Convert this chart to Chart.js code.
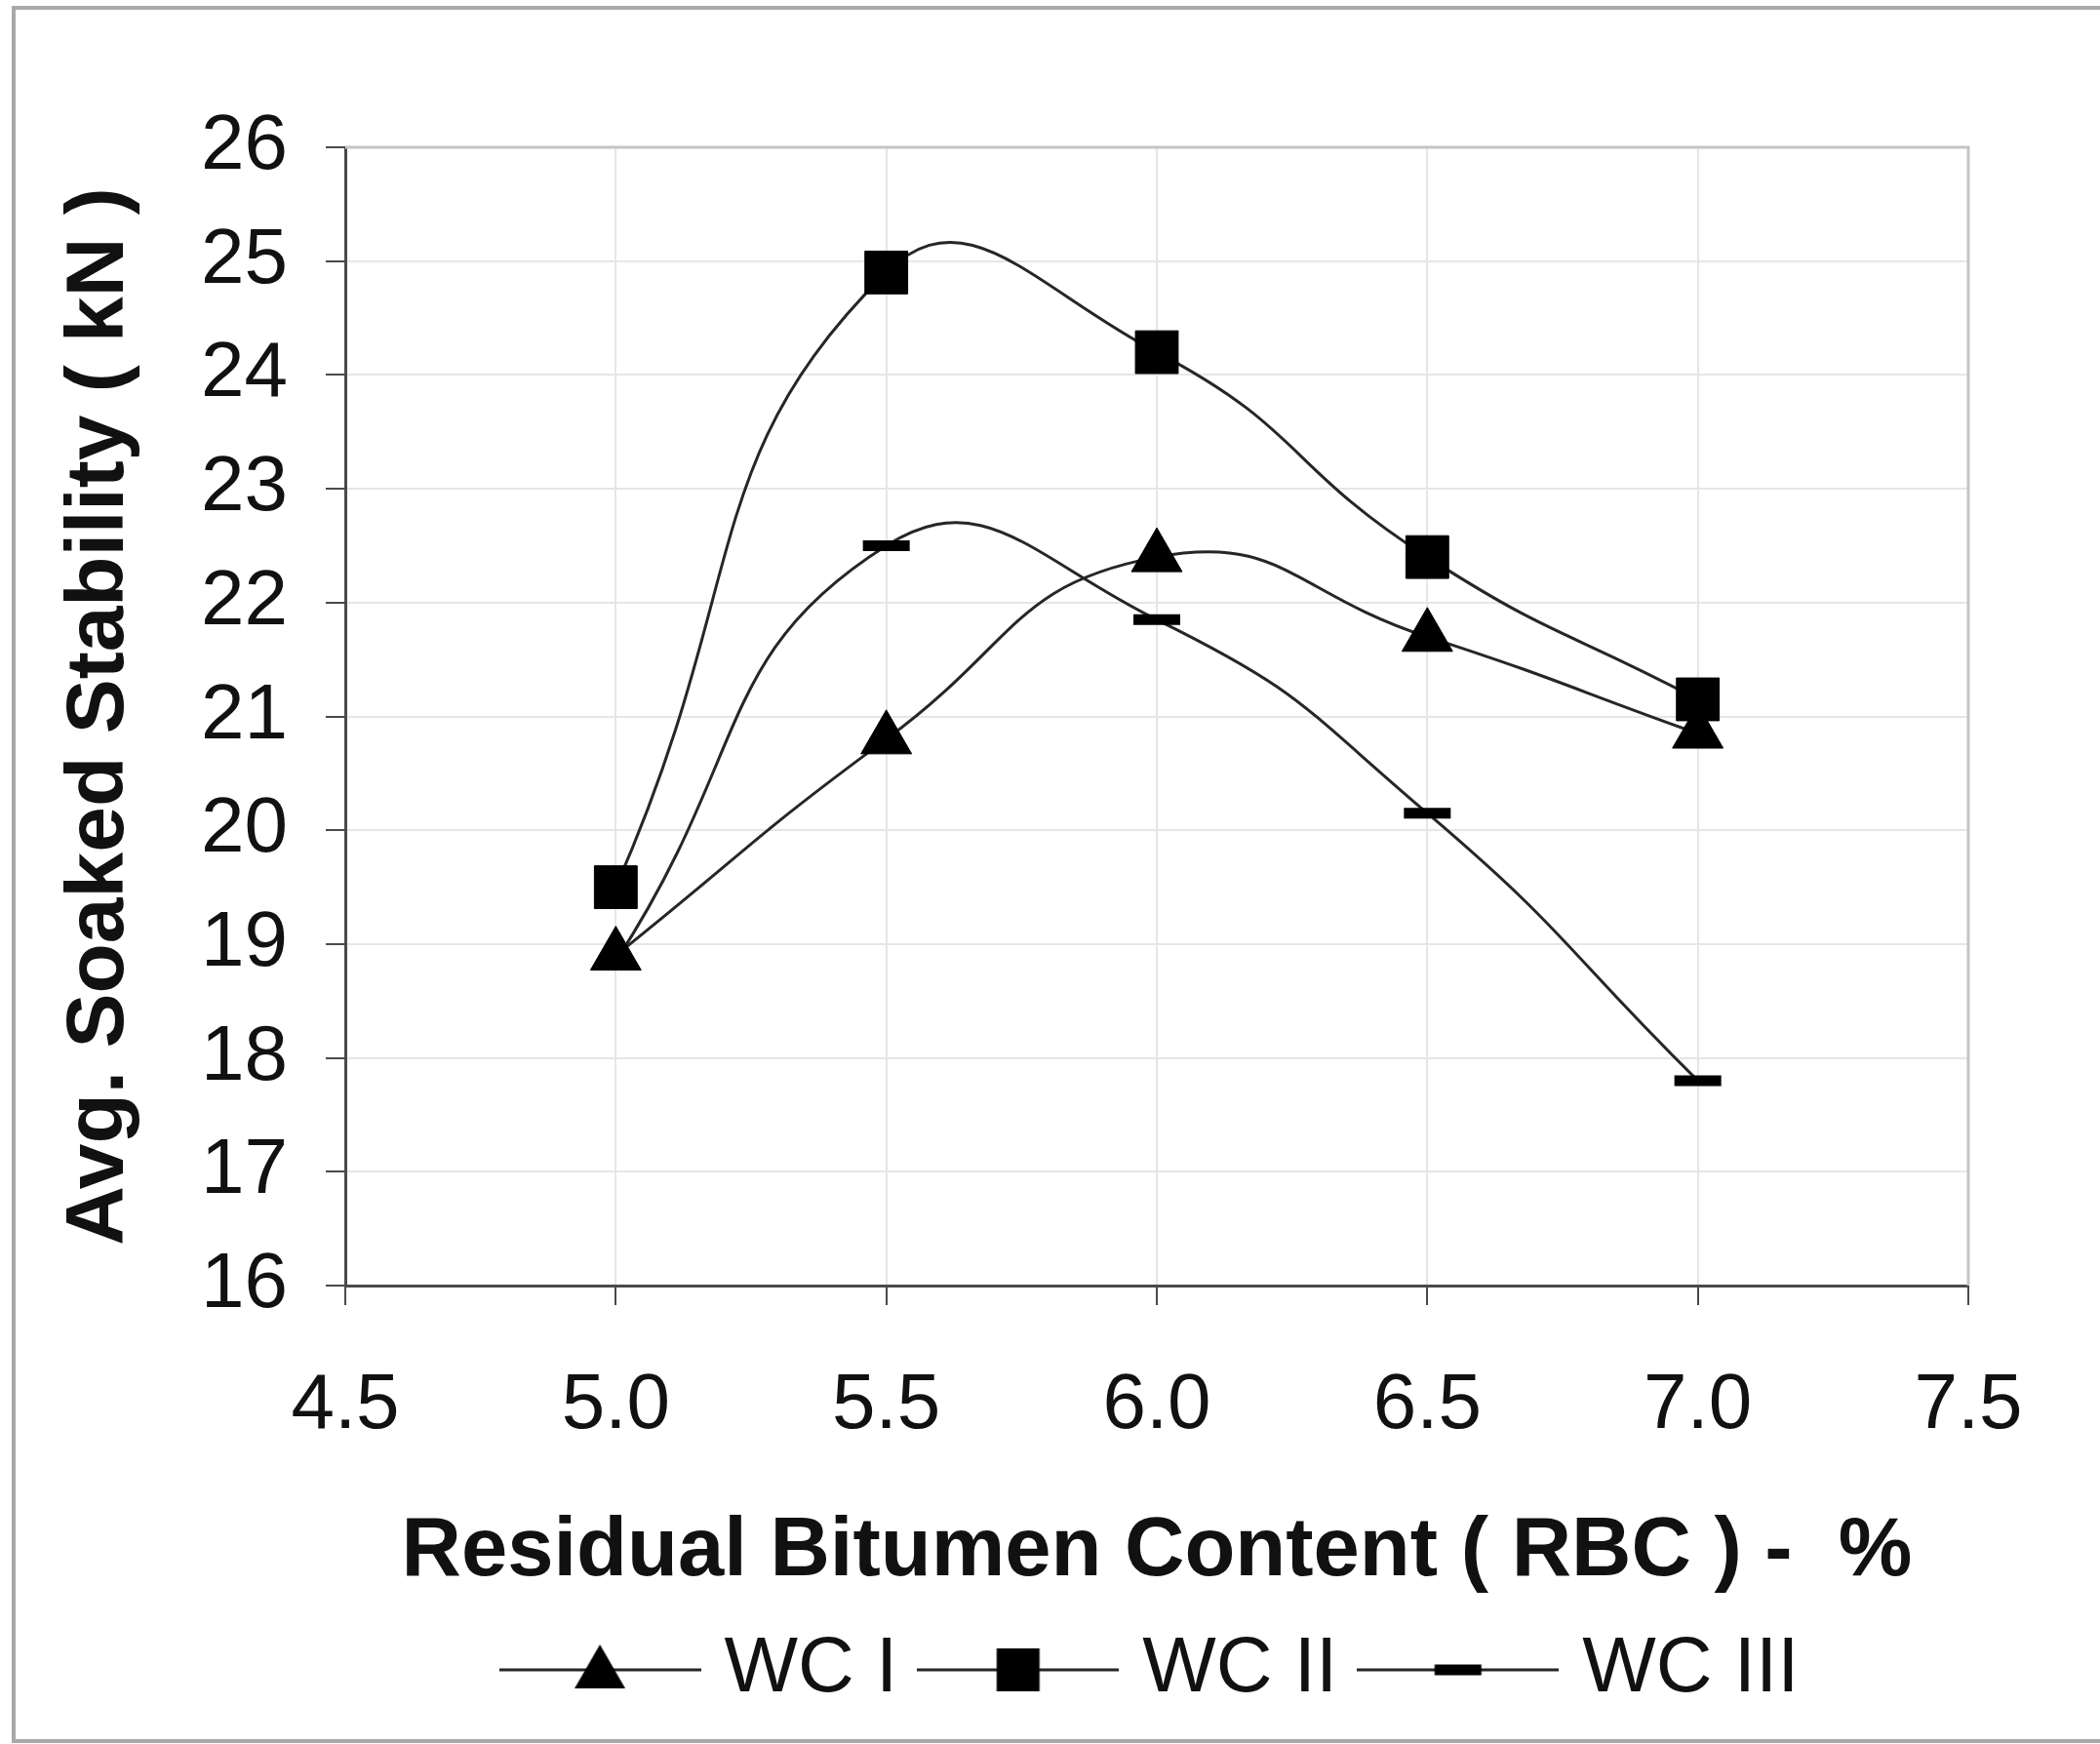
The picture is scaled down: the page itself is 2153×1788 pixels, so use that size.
<!DOCTYPE html>
<html>
<head>
<meta charset="utf-8">
<title>Avg. Soaked Stability vs Residual Bitumen Content</title>
<script src="https://cdn.jsdelivr.net/npm/chart.js@4.4.1/dist/chart.umd.min.js"></script>
<style>
  html, body { margin: 0; padding: 0; background: #ffffff; }
  #wrap { width: 2153px; height: 1788px; }
  canvas { display: block; }
</style>
</head>
<body>
<div id="wrap"><canvas id="chart" width="2153" height="1788"></canvas></div>
<script>
// Residual bitumen content (%) at which each mix was tested
const rbc = [5.0, 5.5, 6.0, 6.5, 7.0];

// Average soaked stability (kN) per mix
const wc1 = [18.9, 20.8, 22.4, 21.7, 20.85];
const wc2 = [19.5, 24.9, 24.2, 22.4, 21.15];
const wc3 = [18.85, 22.5, 21.85, 20.15, 17.8];

const seriesNames = ['WC I', 'WC II', 'WC III'];

// Axis tick labels
const xTickLabels = ['4.5', '5.0', '5.5', '6.0', '6.5', '7.0', '7.5'];
const yTickLabels = ['16', '17', '18', '19', '20', '21', '22', '23', '24', '25', '26'];

const xTitle = 'Residual Bitumen Content ( RBC ) -  %';
const yTitle = 'Avg. Soaked Stability ( kN )';

const FONT = '"Liberation Sans", Arial, Helvetica, sans-serif';
const INK = '#111111';
const LINE = '#262626';

const toPoints = (ys) => rbc.map((x, i) => ({ x: x, y: ys[i] }));

// Legend symbols: a short line with the series marker in the middle
function legendIcon(kind) {
  const c = document.createElement('canvas');
  c.width = 207; c.height = 70;
  const g = c.getContext('2d');
  const cx = c.width / 2, cy = c.height / 2;
  g.strokeStyle = LINE; g.lineWidth = 3;
  g.beginPath(); g.moveTo(0, cy); g.lineTo(c.width, cy); g.stroke();
  g.fillStyle = '#000'; g.strokeStyle = '#000';
  if (kind === 'triangle') {
    const r = 30;
    g.beginPath();
    for (let k = 0; k < 3; k++) {
      const a = k * 2 * Math.PI / 3;
      const px = cx + Math.sin(a) * r, py = cy + 4 - Math.cos(a) * r;
      if (k === 0) g.moveTo(px, py); else g.lineTo(px, py);
    }
    g.closePath(); g.fill();
  } else if (kind === 'rect') {
    const s = 22;
    g.fillRect(cx - s, cy - s, 2 * s, 2 * s);
  } else {
    g.lineWidth = 11;
    g.beginPath(); g.moveTo(cx - 24, cy); g.lineTo(cx + 24, cy); g.stroke();
  }
  return c;
}
const legendIcons = [legendIcon('triangle'), legendIcon('rect'), legendIcon('line')];

// Outer frame of the figure and the light plot-area border (top/right)
const framePlugin = {
  id: 'frame',
  beforeDraw(chart) {
    const ctx = chart.ctx;
    ctx.save();
    ctx.fillStyle = '#ffffff';
    ctx.fillRect(0, 0, chart.width, chart.height);
    ctx.restore();
  },
  beforeDatasetsDraw(chart) {
    const { ctx, chartArea: a } = chart;
    ctx.save();
    ctx.strokeStyle = '#c4c4c4';
    ctx.lineWidth = 3;
    ctx.beginPath();
    ctx.moveTo(a.left, a.top);
    ctx.lineTo(a.right, a.top);
    ctx.lineTo(a.right, a.bottom);
    ctx.stroke();
    ctx.restore();
  },
  afterDraw(chart) {
    const ctx = chart.ctx;
    ctx.save();
    ctx.strokeStyle = '#a8a8a8';
    ctx.lineWidth = 4;
    ctx.beginPath();
    ctx.moveTo(chart.width, 8);
    ctx.lineTo(14, 8);
    ctx.lineTo(14, 1785);
    ctx.lineTo(chart.width, 1785);
    ctx.stroke();
    ctx.restore();
  }
};

const common = {
  borderColor: LINE,
  borderWidth: 3,
  backgroundColor: '#000',
  pointBackgroundColor: '#000',
  pointBorderColor: '#000',
  tension: 0.5,
  fill: false,
  clip: false
};

new Chart(document.getElementById('chart'), {
  type: 'line',
  data: {
    datasets: [
      Object.assign({}, common, {
        label: seriesNames[0], data: toPoints(wc1),
        pointStyle: 'triangle', pointRadius: 30, pointHoverRadius: 30, pointBorderWidth: 1
      }),
      Object.assign({}, common, {
        label: seriesNames[1], data: toPoints(wc2),
        pointStyle: 'rect', pointRadius: 31, pointHoverRadius: 31, pointBorderWidth: 1
      }),
      Object.assign({}, common, {
        label: seriesNames[2], data: toPoints(wc3),
        pointStyle: 'line',
        // the first marker sits under the WC I triangle
        pointRadius: [0, 24, 24, 24, 24],
        pointHoverRadius: [0, 24, 24, 24, 24],
        pointBorderWidth: 11
      })
    ]
  },
  options: {
    responsive: false,
    animation: false,
    devicePixelRatio: 1,
    events: [],
    layout: { padding: { left: 0, right: 135, top: 151, bottom: 26 } },
    plugins: {
      tooltip: { enabled: false },
      legend: {
        position: 'bottom',
        fullSize: false,
        labels: {
          usePointStyle: true,
          pointStyleWidth: 175,
          padding: 36,
          color: INK,
          font: { family: FONT, size: 80 },
          generateLabels(chart) {
            return chart.data.datasets.map((ds, i) => ({
              text: ds.label,
              pointStyle: legendIcons[i],
              fillStyle: '#000',
              strokeStyle: '#000',
              lineWidth: 0,
              hidden: false,
              datasetIndex: i,
              fontColor: INK
            }));
          }
        }
      }
    },
    scales: {
      x: {
        type: 'linear',
        min: 4.5,
        max: 7.5,
        afterFit(scale) { scale.height = 318; },
        border: { display: true, color: '#4a4a4a', width: 3 },
        grid: {
          color: '#e6e6e6', lineWidth: 2,
          drawTicks: true, tickLength: 20, tickColor: '#4a4a4a', tickWidth: 2
        },
        afterBuildTicks(scale) {
          scale.ticks = xTickLabels.map(t => ({ value: parseFloat(t) }));
        },
        ticks: {
          padding: 56,
          color: INK,
          maxRotation: 0,
          autoSkip: false,
          font: { family: FONT, size: 80 },
          callback: (v) => xTickLabels.find(t => parseFloat(t) === v) || ''
        },
        title: {
          display: true,
          text: xTitle,
          color: INK,
          padding: { top: 0, bottom: 2 },
          font: { family: FONT, size: 85, weight: 'bold', lineHeight: 1 }
        }
      },
      y: {
        type: 'linear',
        min: 16,
        max: 26,
        afterFit(scale) { scale.width = 354; },
        border: { display: true, color: '#4a4a4a', width: 3 },
        grid: {
          color: '#e6e6e6', lineWidth: 2,
          drawTicks: true, tickLength: 20, tickColor: '#4a4a4a', tickWidth: 2
        },
        afterBuildTicks(scale) {
          scale.ticks = yTickLabels.map(t => ({ value: parseFloat(t) }));
        },
        ticks: {
          padding: 39,
          color: INK,
          autoSkip: false,
          font: { family: FONT, size: 80 },
          callback: (v) => yTickLabels.find(t => parseFloat(t) === v) || ''
        },
        title: {
          display: true,
          text: yTitle,
          color: INK,
          padding: { top: 61, bottom: 0 },
          font: { family: FONT, size: 84, weight: 'bold', lineHeight: 1 }
        }
      }
    }
  },
  plugins: [framePlugin]
});
</script>
</body>
</html>
